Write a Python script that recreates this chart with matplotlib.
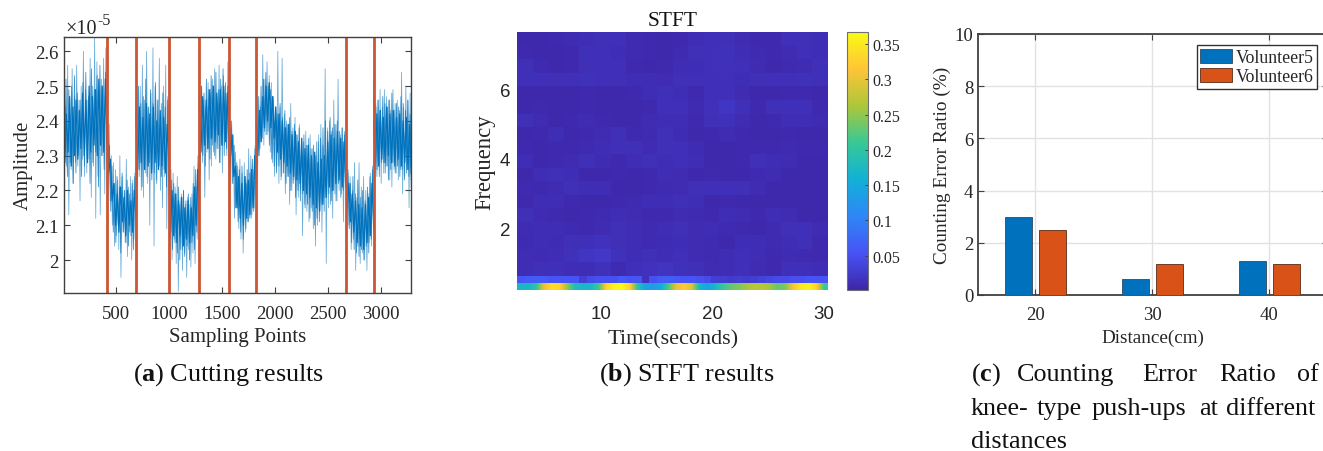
import numpy as np
import matplotlib
matplotlib.use('Agg')
import matplotlib.pyplot as plt
from matplotlib.colors import LinearSegmentedColormap

plt.rcParams['font.family'] = 'Liberation Serif'
plt.rcParams['mathtext.fontset'] = 'custom'
plt.rcParams['mathtext.rm'] = 'Liberation Serif'
plt.rcParams['mathtext.bf'] = 'Liberation Serif:bold'

W, H = 1323, 452
DARK = '#262626'
BLUE = '#0072BD'
ORANGE = '#D95319'
CUT_RED = '#CC5533'

# Panel (a): amplitude (x 1e-5), read as high/low swings between the cut points
segment_edges = [1, 415, 689, 1000, 1287, 1568, 1826, 2670, 2935, 3290]
cut_points = [415, 689, 1000, 1287, 1568, 1826, 2670, 2935]
seg_0 = [2.51, 2.20, 2.44, 2.27, 2.56, 2.13, 2.42, 2.26, 2.55, 2.22, 2.47, 2.28, 2.56, 2.27, 2.46, 2.17,
         2.50, 2.29, 2.60, 2.24, 2.49, 2.25, 2.46, 2.29, 2.58, 2.18, 2.50, 2.27, 2.64, 2.12, 2.57, 2.24,
         2.48, 2.13, 2.52, 2.30, 2.58, 2.19, 2.61, 2.28]
seg_1 = [2.45, 2.22, 2.39, 2.17, 2.30, 2.10, 2.28, 2.04, 2.26, 2.07, 2.23, 2.03, 2.30, 1.95, 2.24, 2.08,
         2.20, 2.05, 2.29, 2.01, 2.21, 2.08, 2.24, 2.00, 2.23, 2.06, 2.25, 2.04]
seg_2 = [2.45, 2.14, 2.43, 2.24, 2.50, 2.20, 2.56, 2.18, 2.46, 2.25, 2.60, 2.22, 2.44, 2.10, 2.48, 2.26,
         2.61, 2.04, 2.50, 2.23, 2.46, 2.27, 2.58, 2.20, 2.45, 2.15, 2.50, 2.24, 2.56, 2.09, 2.47, 2.26]
seg_3 = [2.31, 2.04, 2.26, 2.00, 2.25, 2.06, 2.21, 1.99, 2.24, 1.91, 2.16, 2.03, 2.19, 1.97, 2.20, 2.02,
         2.16, 1.95, 2.18, 2.03, 2.16, 1.98, 2.19, 2.02, 2.27, 1.99, 2.21, 2.06, 2.28, 1.96]
seg_4 = [2.40, 2.25, 2.50, 2.28, 2.46, 2.18, 2.44, 2.31, 2.51, 2.23, 2.48, 2.27, 2.52, 2.31, 2.55, 2.29,
         2.47, 2.32, 2.56, 2.28, 2.50, 2.25, 2.53, 2.33, 2.48, 2.30, 2.57, 2.27]
seg_5 = [2.50, 2.24, 2.38, 2.22, 2.36, 2.12, 2.31, 2.15, 2.27, 2.09, 2.29, 2.06, 2.25, 2.02, 2.28, 2.08,
         2.22, 2.11, 2.32, 2.12, 2.30, 2.13, 2.26, 2.15, 2.33, 2.16]
seg_6 = [2.48, 2.22, 2.41, 2.30, 2.44, 2.34, 2.59, 2.33, 2.52, 2.36, 2.57, 2.37, 2.53, 2.31, 2.51, 2.28,
         2.47, 2.24, 2.43, 2.27, 2.60, 2.22, 2.44, 2.23, 2.58, 2.25, 2.42, 2.19, 2.40, 2.24, 2.39, 2.16,
         2.45, 2.20, 2.38, 2.23, 2.41, 2.13, 2.36, 2.18, 2.39, 2.20, 2.35, 2.07, 2.34, 2.16, 2.37, 2.14,
         2.33, 2.11, 2.36, 2.15, 2.32, 2.09, 2.31, 2.04, 2.34, 2.10, 2.36, 2.14, 2.39, 2.08, 2.33, 2.18,
         2.55, 1.99, 2.38, 2.15, 2.40, 2.16, 2.37, 2.12, 2.46, 2.19, 2.39, 2.17, 2.52, 2.20, 2.36, 2.19,
         2.38, 2.11, 2.37, 2.21]
seg_7 = [2.35, 2.15, 2.25, 2.10, 2.24, 2.03, 2.20, 2.06, 2.28, 1.97, 2.18, 2.04, 2.28, 1.99, 2.21, 2.02,
         2.24, 2.00, 2.20, 1.97, 2.19, 2.05, 2.25, 2.04, 2.27, 2.08]
seg_8 = [2.52, 2.20, 2.45, 2.24, 2.46, 2.27, 2.49, 2.22, 2.44, 2.28, 2.49, 2.25, 2.47, 2.27, 2.46, 2.23,
         2.43, 2.21, 2.49, 2.26, 2.45, 2.25, 2.46, 2.23, 2.43, 2.26, 2.54, 2.19, 2.44, 2.24, 2.50, 2.26,
         2.46, 2.15, 2.48, 2.21]
segments = [seg_0, seg_1, seg_2, seg_3, seg_4, seg_5, seg_6, seg_7, seg_8]

# Smaller swings of the trace inside the spikes
mid_swings = [
    [2.47, 2.26, 2.52, 2.24, 2.49, 2.28, 2.50, 2.22, 2.53, 2.25, 2.48, 2.30, 2.46, 2.24, 2.51, 2.27,
     2.54, 2.29, 2.47, 2.22, 2.55, 2.28, 2.49, 2.31, 2.53, 2.21, 2.56, 2.30, 2.50, 2.26, 2.54, 2.32],
    [2.42, 2.24, 2.33, 2.14, 2.27, 2.08, 2.22, 2.05, 2.24, 2.10, 2.21, 2.02, 2.25, 2.08, 2.20, 2.05,
     2.23, 2.04, 2.19, 2.07, 2.22, 2.03, 2.24, 2.09],
    [2.46, 2.22, 2.50, 2.26, 2.45, 2.21, 2.47, 2.27, 2.52, 2.24, 2.44, 2.28, 2.49, 2.23, 2.45, 2.25,
     2.51, 2.22, 2.46, 2.27, 2.42, 2.24, 2.48, 2.26, 2.44, 2.21, 2.46, 2.27],
    [2.28, 2.06, 2.23, 2.03, 2.22, 2.05, 2.19, 2.02, 2.21, 2.00, 2.18, 2.03, 2.20, 2.01, 2.17, 2.04,
     2.19, 2.00, 2.18, 2.05, 2.22, 2.03, 2.26, 2.08, 2.30, 2.12],
    [2.47, 2.29, 2.50, 2.30, 2.48, 2.27, 2.52, 2.32, 2.49, 2.29, 2.53, 2.33, 2.50, 2.30, 2.54, 2.32,
     2.49, 2.28, 2.52, 2.33, 2.55, 2.30, 2.51, 2.32, 2.50, 2.28],
    [2.47, 2.27, 2.40, 2.22, 2.33, 2.15, 2.28, 2.11, 2.26, 2.08, 2.27, 2.06, 2.24, 2.09, 2.26, 2.11,
     2.25, 2.12, 2.29, 2.14, 2.32, 2.17],
    [2.44, 2.28, 2.47, 2.32, 2.50, 2.35, 2.52, 2.37, 2.54, 2.36, 2.50, 2.33, 2.49, 2.29, 2.46, 2.27,
     2.44, 2.25, 2.42, 2.27, 2.45, 2.24, 2.41, 2.25, 2.43, 2.22, 2.39, 2.24, 2.41, 2.20, 2.37, 2.22,
     2.39, 2.18, 2.36, 2.20, 2.38, 2.17, 2.34, 2.19, 2.36, 2.15, 2.33, 2.16, 2.35, 2.12, 2.32, 2.14,
     2.33, 2.10, 2.30, 2.12, 2.34, 2.11, 2.35, 2.16, 2.38, 2.14, 2.40, 2.18, 2.37, 2.19, 2.41, 2.17,
     2.38, 2.20, 2.39, 2.17, 2.40, 2.22, 2.37, 2.18, 2.38, 2.20, 2.36, 2.21],
    [2.33, 2.13, 2.26, 2.09, 2.22, 2.05, 2.24, 2.03, 2.19, 2.02, 2.23, 2.01, 2.18, 2.03, 2.20, 2.00,
     2.17, 2.04, 2.21, 2.02, 2.24, 2.06, 2.26, 2.09],
    [2.47, 2.25, 2.44, 2.26, 2.46, 2.24, 2.43, 2.28, 2.47, 2.25, 2.45, 2.27, 2.44, 2.23, 2.46, 2.26,
     2.48, 2.28, 2.43, 2.25, 2.45, 2.27, 2.44, 2.24, 2.47, 2.26, 2.45, 2.23, 2.43, 2.25, 2.46, 2.24,
     2.42, 2.23],
]

# Dense core of the trace, upper and lower edge per segment
core_hi = [
    [2.45, 2.42, 2.47, 2.44, 2.46, 2.43, 2.48, 2.46, 2.50, 2.47, 2.49, 2.52, 2.50, 2.52],
    [2.40, 2.29, 2.22, 2.19, 2.21, 2.18, 2.20, 2.17, 2.20],
    [2.42, 2.44, 2.41, 2.45, 2.42, 2.44, 2.40, 2.43, 2.41, 2.39],
    [2.26, 2.20, 2.19, 2.17, 2.18, 2.15, 2.17, 2.15, 2.21, 2.26],
    [2.45, 2.47, 2.46, 2.49, 2.50, 2.48, 2.49, 2.50, 2.48],
    [2.44, 2.36, 2.27, 2.24, 2.22, 2.24, 2.23, 2.26, 2.30],
    [2.40, 2.43, 2.47, 2.50, 2.51, 2.47, 2.44, 2.42, 2.40, 2.38, 2.39, 2.36, 2.37, 2.34,
     2.35, 2.32, 2.33, 2.30, 2.31, 2.28, 2.29, 2.30, 2.34, 2.36, 2.35, 2.37, 2.35, 2.34],
    [2.30, 2.22, 2.19, 2.17, 2.16, 2.15, 2.16, 2.18, 2.22],
    [2.40, 2.42, 2.43, 2.41, 2.44, 2.42, 2.43, 2.41, 2.42, 2.40, 2.41, 2.39],
]
core_lo = [
    [2.28, 2.31, 2.27, 2.30, 2.29, 2.32, 2.30, 2.28, 2.31, 2.33, 2.30, 2.33, 2.31, 2.34],
    [2.25, 2.17, 2.10, 2.08, 2.11, 2.07, 2.10, 2.08, 2.12],
    [2.26, 2.28, 2.26, 2.27, 2.25, 2.28, 2.26, 2.27, 2.25, 2.28],
    [2.08, 2.07, 2.05, 2.07, 2.04, 2.06, 2.05, 2.07, 2.10, 2.14],
    [2.31, 2.33, 2.32, 2.35, 2.34, 2.36, 2.33, 2.34, 2.32],
    [2.30, 2.24, 2.15, 2.12, 2.10, 2.12, 2.13, 2.15, 2.19],
    [2.30, 2.34, 2.38, 2.40, 2.38, 2.35, 2.31, 2.29, 2.28, 2.27, 2.25, 2.24, 2.23, 2.22,
     2.20, 2.19, 2.18, 2.16, 2.15, 2.14, 2.16, 2.18, 2.21, 2.20, 2.22, 2.23, 2.21, 2.22],
    [2.15, 2.11, 2.08, 2.05, 2.04, 2.03, 2.05, 2.07, 2.10],
    [2.28, 2.27, 2.29, 2.28, 2.30, 2.28, 2.27, 2.29, 2.27, 2.28, 2.26, 2.25],
]

# Panel (b): STFT magnitude in thousandths, top row first
stft_upper = [
    [5, 5, 6, 9, 10, 12, 13, 8, 6, 5, 6, 11, 13, 12, 9, 6, 6, 13, 12, 10],
    [6, 5, 5, 6, 13, 14, 11, 8, 6, 5, 8, 12, 14, 15, 10, 8, 6, 9, 13, 11],
    [12, 8, 5, 6, 12, 14, 13, 6, 5, 6, 10, 11, 12, 15, 14, 9, 5, 8, 9, 12],
    [13, 14, 12, 13, 15, 14, 12, 11, 10, 9, 12, 13, 14, 13, 11, 12, 13, 14, 15, 12],
    [5, 5, 5, 5, 6, 5, 5, 6, 11, 12, 10, 6, 12, 14, 9, 5, 5, 6, 6, 5],
    [5, 6, 5, 5, 6, 5, 5, 5, 6, 13, 14, 8, 15, 21, 13, 6, 12, 14, 13, 6],
    [12, 9, 5, 6, 9, 6, 5, 5, 9, 11, 10, 6, 12, 15, 9, 5, 6, 10, 11, 8],
    [5, 6, 11, 5, 6, 9, 12, 6, 8, 12, 9, 5, 6, 9, 6, 5, 5, 6, 5, 5],
    [6, 5, 6, 6, 8, 10, 13, 12, 9, 12, 13, 9, 5, 5, 6, 6, 6, 8, 6, 6],
    [11, 5, 6, 9, 12, 9, 6, 11, 12, 10, 13, 10, 5, 5, 6, 12, 11, 9, 5, 5],
    [5, 11, 12, 10, 5, 5, 6, 5, 6, 10, 9, 5, 6, 5, 5, 8, 9, 5, 5, 5],
    [8, 6, 9, 12, 11, 10, 5, 5, 6, 8, 9, 12, 14, 13, 12, 9, 5, 5, 5, 5],
    [6, 10, 11, 6, 5, 5, 6, 8, 10, 11, 12, 10, 5, 6, 5, 5, 5, 5, 5, 5],
    [12, 9, 6, 5, 6, 8, 11, 9, 6, 6, 9, 8, 6, 10, 9, 6, 11, 9, 5, 5],
    [9, 11, 10, 8, 6, 9, 12, 11, 8, 10, 12, 9, 11, 8, 6, 5, 8, 12, 13, 9],
    [8, 10, 9, 12, 14, 16, 12, 10, 8, 9, 10, 9, 8, 5, 11, 10, 8, 10, 12, 6],
    [10, 9, 11, 15, 21, 22, 15, 11, 12, 10, 13, 9, 8, 10, 14, 11, 6, 9, 8, 6],
    [11, 12, 13, 10, 11, 15, 8, 14, 16, 18, 15, 12, 9, 11, 13, 9, 6, 13, 14, 11],
]
stft_second = [55, 60, 65, 60, 55, 55, 55, 55, 30, 45, 50, 50, 50, 60, 55, 55, 15, 50, 60, 65,
               60, 55, 55, 50, 45, 30, 30, 25, 30, 25, 30, 35, 40, 45, 45, 50, 50, 55, 55, 55]
stft_bottom = [170, 170, 200, 300, 340, 330, 250, 180, 170, 170, 210, 330, 360, 365, 330, 200, 140, 130, 150, 220,
               300, 320, 290, 170, 140, 170, 210, 230, 240, 260, 270, 270, 260, 230, 240, 310, 350, 360, 330, 210]
cbar_ticks = [0.05, 0.1, 0.15, 0.2, 0.25, 0.3, 0.35]
cbar_labels = ['0.05', '0.1', '0.15', '0.2', '0.25', '0.3', '0.35']

# Panel (c): counting error ratio
distances = [20, 30, 40]
volunteer5 = [3.0, 0.6, 1.3]
volunteer6 = [2.5, 1.2, 1.2]

PARULA = [(0.2422, 0.1504, 0.6603), (0.2810, 0.3228, 0.9579), (0.1786, 0.5289, 0.9682),
          (0.0689, 0.6948, 0.8394), (0.2161, 0.7843, 0.5923), (0.6720, 0.7793, 0.2227),
          (0.9970, 0.7659, 0.2199), (0.9769, 0.9839, 0.0805)]


def px_axes(fig, left, top, right, bottom):
    # Axes from pixel edges of the 1323x452 canvas (y measured from the top)
    return fig.add_axes([left / W, 1 - bottom / H, (right - left) / W, (bottom - top) / H])


def px_text(fig, x, y, s, **kwargs):
    kwargs.setdefault('color', '#111111')
    kwargs.setdefault('fontsize', 18.8)
    fig.text(x / W, 1 - y / H, s, **kwargs)


def style_axes(ax):
    for spine in ax.spines.values():
        spine.set_color('#404040')
        spine.set_linewidth(1.0)
    ax.tick_params(direction='in', top=True, right=True, length=4, width=0.8, color='#404040', labelcolor=DARK)


def plot_cutting(fig):
    ax = px_axes(fig, 63.5, 37.7, 411, 293.7)
    for i, seg in enumerate(segments):
        # Samples are spread evenly between the two cut points around each segment
        x = np.linspace(segment_edges[i], segment_edges[i + 1], len(seg))
        ax.plot(x, seg, color=BLUE, linewidth=0.55, alpha=0.6)
        mid_x = np.linspace(segment_edges[i], segment_edges[i + 1], len(mid_swings[i]))
        ax.plot(mid_x, mid_swings[i], color=BLUE, linewidth=0.6, alpha=0.75)
        # Core drawn as a zigzag between its two edges so the outline stays rough
        core_y = np.ravel(np.column_stack([core_hi[i], core_lo[i]]))
        core_x = np.linspace(segment_edges[i], segment_edges[i + 1], len(core_y))
        ax.plot(core_x, core_y, color=BLUE, linewidth=0.9)
    ax.vlines(cut_points, 1.906, 2.642, color=CUT_RED, linewidth=2.0)
    ax.set_xlim(4, 3288)
    ax.set_ylim(1.906, 2.642)
    ax.set_xticks([500, 1000, 1500, 2000, 2500, 3000])
    ax.set_yticks([2.0, 2.1, 2.2, 2.3, 2.4, 2.5, 2.6])
    ax.set_yticklabels(['2', '2.1', '2.2', '2.3', '2.4', '2.5', '2.6'])
    style_axes(ax)
    ax.tick_params(labelsize=13.5)
    ax.tick_params(axis='x', pad=9)
    ax.set_xlabel('Sampling Points', fontsize=15, color=DARK, labelpad=3.5)
    ax.set_ylabel('Amplitude', fontsize=15, color=DARK, labelpad=2)
    # MATLAB style exponent with a plain hyphen
    px_text(fig, 65, 34, '\u00d710', fontsize=14.5, color=DARK)
    px_text(fig, 97, 25, '-5', fontsize=11.5, color=DARK)
    px_text(fig, 229, 381, r'($\mathbf{a}$) Cutting results', ha='center')


def plot_stft(fig):
    ax = px_axes(fig, 517.3, 33.3, 828, 291)
    cmap = LinearSegmentedColormap.from_list('parula', PARULA)
    norm = dict(cmap=cmap, vmin=0.0014, vmax=0.3666)

    # Two thin rows at the bottom, the rest of the spectrum above them
    upper = np.array(stft_upper[::-1]) / 1000.0
    upper_y = np.linspace(0.63, 7.63, len(stft_upper) + 1)
    upper_x = np.linspace(2.46, 30.35, upper.shape[1] + 1)
    low_x = np.linspace(2.46, 30.35, len(stft_second) + 1)
    mesh = ax.pcolormesh(upper_x, upper_y, upper, **norm)
    ax.pcolormesh(low_x, [0.43, 0.63], np.array([stft_second]) / 1000.0, **norm)
    ax.imshow(np.array([stft_bottom]) / 1000.0, extent=(2.46, 30.35, 0.227, 0.43), aspect='auto',
              interpolation='bilinear', **norm)

    ax.set_xlim(2.46, 30.35)
    ax.set_ylim(0.227, 7.63)
    ax.set_xticks([10, 20, 30])
    ax.set_yticks([2, 4, 6])
    ax.tick_params(length=0, labelsize=13.5, labelcolor=DARK)
    ax.tick_params(axis='x', pad=11)
    ax.tick_params(axis='y', pad=5)
    for label in ax.get_xticklabels() + ax.get_yticklabels():
        label.set_family('Liberation Sans')
    for spine in ax.spines.values():
        spine.set_visible(False)
    ax.set_title('STFT', fontsize=15.5, color='#111111', pad=5)
    ax.set_xlabel('Time(seconds)', fontsize=16, color=DARK, labelpad=5)
    ax.set_ylabel('Frequency', fontsize=16.3, color=DARK, labelpad=3)

    cax = px_axes(fig, 846.7, 33.3, 868, 291)
    cbar = fig.colorbar(mesh, cax=cax)
    cbar.set_ticks(cbar_ticks)
    cbar.set_ticklabels(cbar_labels)
    cbar.ax.tick_params(direction='in', length=2.5, width=0.7, labelsize=11.5, color='#404040', labelcolor=DARK, pad=3)
    cbar.outline.set_edgecolor('#707070')
    for label in cbar.ax.get_yticklabels():
        label.set_family('Liberation Serif')
    px_text(fig, 687, 381, r'($\mathbf{b}$) STFT results', ha='center')


def plot_bars(fig):
    # The right edge of this axes runs past the canvas, as in the source page
    ax = px_axes(fig, 978.3, 35, 1328, 296)
    pos = np.array(distances, dtype=float)
    ax.bar(pos - 1.44, volunteer5, width=2.3, color=BLUE, edgecolor='#33475a', linewidth=0.6, label='Volunteer5', zorder=3)
    ax.bar(pos + 1.44, volunteer6, width=2.3, color=ORANGE, edgecolor='#5a2a14', linewidth=0.6, label='Volunteer6', zorder=3)
    ax.set_xlim(15.13, 45)
    ax.set_ylim(0, 10)
    ax.set_xticks(distances)
    ax.set_yticks([0, 2, 4, 6, 8, 10])
    ax.grid(True, color='#e2e2e2', linewidth=1.0, zorder=0)
    ax.set_axisbelow(True)
    style_axes(ax)
    ax.spines['top'].set_linewidth(1.3)
    ax.spines['bottom'].set_linewidth(1.3)
    ax.spines['left'].set_linewidth(1.3)
    ax.tick_params(labelsize=13.5)
    ax.tick_params(axis='x', pad=8)
    ax.set_xlabel('Distance(cm)', fontsize=13.8, color=DARK, labelpad=4)
    ax.set_ylabel('Counting Error Ratio (%)', fontsize=13.9, color=DARK, labelpad=3)
    ax.legend(loc='upper left', bbox_to_anchor=(1196.7 / W, 1 - 46 / H), bbox_transform=fig.transFigure,
              fontsize=12.8, fancybox=False, framealpha=1, edgecolor='#333333', borderpad=0.2, borderaxespad=0,
              handlelength=1.8, handleheight=0.85, handletextpad=0.2, labelspacing=0.12, labelcolor=DARK)

    # Caption lines are justified in the source, so each word is placed on its own
    px_text(fig, 971, 381, r'($\mathbf{c}$)')
    px_text(fig, 1017, 381, 'Counting')
    px_text(fig, 1142, 381, 'Error')
    px_text(fig, 1219, 381, 'Ratio')
    px_text(fig, 1297, 381, 'of')
    px_text(fig, 971, 415, 'knee-')
    px_text(fig, 1037, 415, 'type')
    px_text(fig, 1092, 415, 'push-ups')
    px_text(fig, 1199, 415, 'at')
    px_text(fig, 1226, 415, 'different')
    px_text(fig, 971, 448, 'distances')


def main():
    fig = plt.figure(figsize=(W / 100, H / 100), dpi=100)
    plot_cutting(fig)
    plot_stft(fig)
    plot_bars(fig)
    fig.savefig('out.png', dpi=100)


if __name__ == "__main__":
    main()
